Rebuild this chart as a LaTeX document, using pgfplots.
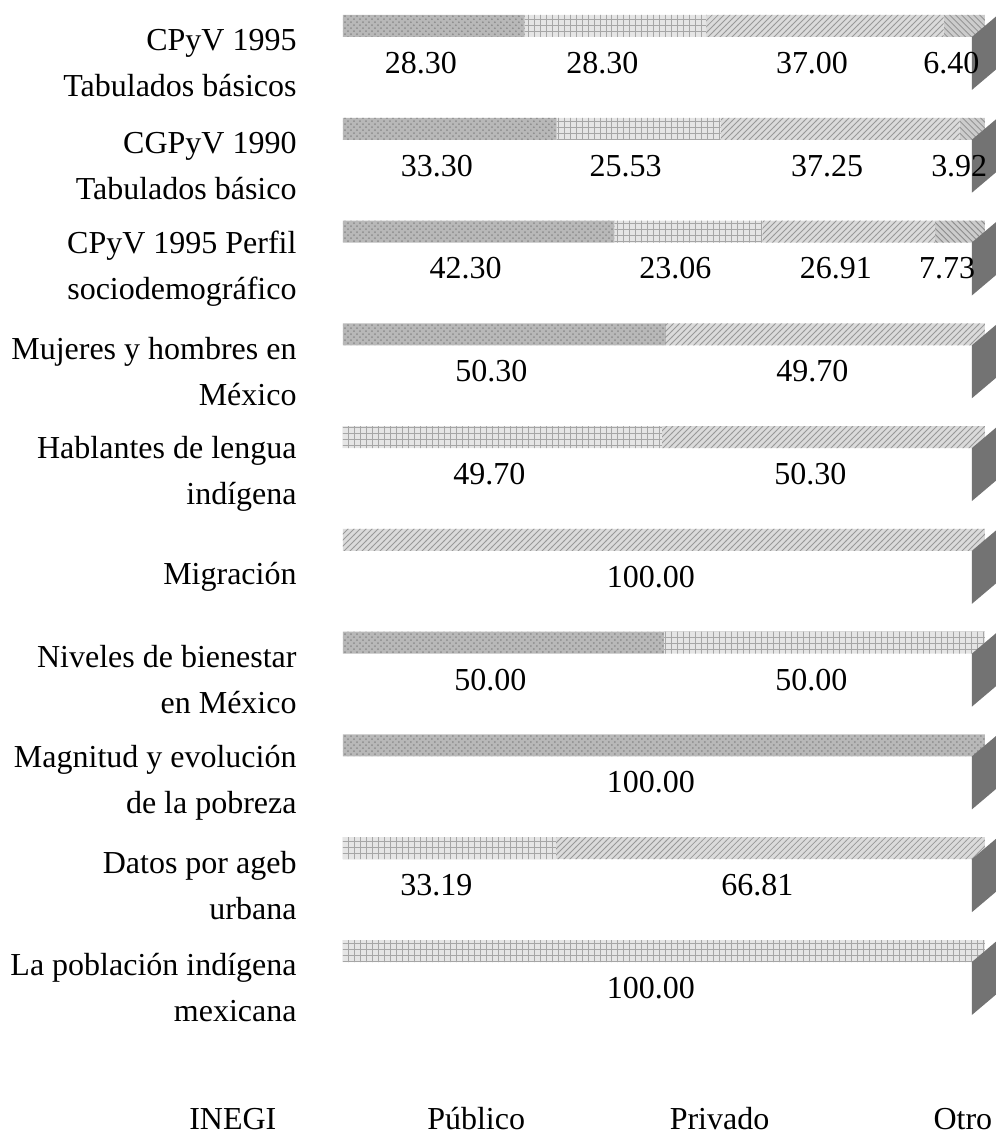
\documentclass[border=0pt]{standalone}
\usepackage{fontspec}
\setmainfont{Liberation Serif}
\usepackage{pgfplots}
\usepackage{pgfplotstable}
\pgfplotsset{compat=1.18}
\usetikzlibrary{patterns}

\pgfdeclareplotmark{sideface}{%
  \pgfpathmoveto{\pgfpoint{0pt}{-13.5pt}}%
  \pgfpathlineto{\pgfpoint{0pt}{13pt}}%
  \pgfpathlineto{\pgfpoint{13pt}{24pt}}%
  \pgfpathlineto{\pgfpoint{13pt}{-2.5pt}}%
  \pgfpathclose
  \pgfusepathqfill
}

\pgfplotstableread{
row INEGI Publico Privado Otro
9 28.30 28.30 37.00 6.40
8 33.30 25.53 37.25 3.92
7 42.30 23.06 26.91 7.73
6 50.30 0 49.70 0
5 0 49.70 50.30 0
4 0 0 100 0
3 50 50 0 0
2 100 0 0 0
1 0 33.19 66.81 0
0 0 100 0 0
}\datatable

\pgfplotstableread{
x y lab
14.15 9 28.30
42.45 9 28.30
75.10 9 37.00
96.80 9 6.40
16.65 8 33.30
46.065 8 25.53
77.455 8 37.25
98.04 8 3.92
21.15 7 42.30
53.83 7 23.06
78.815 7 26.91
96.135 7 7.73
25.15 6 50.30
75.15 6 49.70
24.85 5 49.70
74.85 5 50.30
50 4 100.00
25 3 50.00
75 3 50.00
50 2 100.00
16.595 1 33.19
66.595 1 66.81
50 0 100.00
}\labtable

\pgfplotstableread{
x y
100 9
100 8
100 7
100 6
100 5
100 4
100 3
100 2
100 1
100 0
}\sidetable

\pgfplotsset{common/.style={
  scale only axis, width=321pt, height=514pt,
  xmin=0, xmax=100, ymin=-0.5, ymax=9.5,
  axis line style={draw=none}, tick style={draw=none},
  major tick length=0pt, xtick=\empty, clip=false,
}}

\begin{document}
\begin{tikzpicture}
\begin{axis}[common, xbar stacked, bar width=11pt, ytick=\empty,
  legend image code/.code={},
  legend style={draw=none, fill=none, legend columns=4,
    at={(0.4174,-0.0784)}, anchor=center,
    font=\fontsize{16}{19}\selectfont,
    nodes={text width=121.7pt, align=center, inner sep=0pt},
    /tikz/every even column/.append style={column sep=0pt}},
]
\addplot[draw=none, fill=black!28, bar shift=18.5pt, xshift=6.5pt,
  postaction={pattern=crosshatch dots, pattern color=black!45}]
  table[x=INEGI, y=row] {\datatable};
\addlegendentry{INEGI}
\addplot[draw=none, fill=black!10, bar shift=18.5pt, xshift=6.5pt,
  postaction={pattern=grid, pattern color=black!35}]
  table[x=Publico, y=row] {\datatable};
\addlegendentry{Público}
\addplot[draw=none, fill=black!14, bar shift=18.5pt, xshift=6.5pt,
  postaction={pattern=north east lines, pattern color=black!40}]
  table[x=Privado, y=row] {\datatable};
\addlegendentry{Privado}
\addplot[draw=none, fill=black!20, bar shift=18.5pt, xshift=6.5pt,
  postaction={pattern=north west lines, pattern color=black!45}]
  table[x=Otro, y=row] {\datatable};
\addlegendentry{Otro}
\end{axis}

\begin{axis}[common,
  ytick={0,...,9},
  yticklabels={{La población indígena\\mexicana},{Datos por ageb\\urbana},{Magnitud y evolución\\de la pobreza},{Niveles de bienestar\\en México},{Migración},{Hablantes de lengua\\indígena},{Mujeres y hombres en\\México},{CPyV 1995 Perfil\\sociodemográfico},{CGPyV 1990\\Tabulados básico},{CPyV 1995\\Tabulados básicos}},
  yticklabel style={align=right, font=\fontsize{16}{23}\selectfont, inner sep=0pt, xshift=-16.5pt},
]
\addplot[only marks, mark=sideface, mark options={fill=black!55, draw=none}]
  table[x=x, y=y] {\sidetable};
\addplot[only marks, mark=none, nodes near coords, point meta=explicit symbolic,
  every node near coord/.append style={anchor=center, font=\fontsize{16}{19}\selectfont, inner sep=0pt}]
  table[x=x, y=y, meta=lab] {\labtable};
\end{axis}
\pgfresetboundingbox
\path[use as bounding box] (-165pt,-47.8pt) rectangle (333pt,519.8pt);
\end{tikzpicture}
\end{document}
